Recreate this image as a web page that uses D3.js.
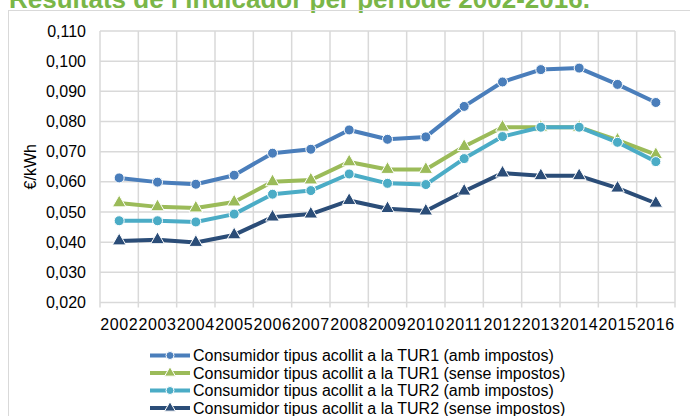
<!DOCTYPE html>
<html>
<head>
<meta charset="utf-8">
<script src="https://cdn.jsdelivr.net/npm/d3@7"></script>
<style>
  body { margin: 0; background: #fff; }
  svg { display: block; font-family: "Liberation Sans", Arial, sans-serif; }
</style>
</head>
<body>
<div id="chart"></div>
<script>
var years = ['2002','2003','2004','2005','2006','2007','2008','2009','2010','2011','2012','2013','2014','2015','2016'];
var yTicks = [0.02, 0.03, 0.04, 0.05, 0.06, 0.07, 0.08, 0.09, 0.10, 0.11];

var tur1Amb   = [0.0613, 0.0599, 0.0592, 0.0622, 0.0695, 0.0708, 0.0772, 0.0741, 0.0749, 0.0850, 0.0931, 0.0972, 0.0977, 0.0923, 0.0863];
var tur1Sense = [0.0530, 0.0517, 0.0513, 0.0533, 0.0600, 0.0606, 0.0666, 0.0641, 0.0641, 0.0717, 0.0781, 0.0781, 0.0781, 0.0738, 0.0690];
var tur2Amb   = [0.0471, 0.0471, 0.0467, 0.0493, 0.0559, 0.0571, 0.0626, 0.0595, 0.0591, 0.0677, 0.0750, 0.0781, 0.0781, 0.0731, 0.0667];
var tur2Sense = [0.0404, 0.0408, 0.0399, 0.0424, 0.0483, 0.0493, 0.0538, 0.0511, 0.0503, 0.0569, 0.0629, 0.0620, 0.0620, 0.0579, 0.0529];

var series = [
  { name: 'Consumidor tipus acollit a la TUR1 (amb impostos)',   values: tur1Amb,   color: '#4a7ebb', marker: 'circle' },
  { name: 'Consumidor tipus acollit a la TUR1 (sense impostos)', values: tur1Sense, color: '#9bbb59', marker: 'triangle' },
  { name: 'Consumidor tipus acollit a la TUR2 (amb impostos)',   values: tur2Amb,   color: '#4bacc6', marker: 'circle' },
  { name: 'Consumidor tipus acollit a la TUR2 (sense impostos)', values: tur2Sense, color: '#2b4d78', marker: 'triangle' }
];

var width = 690, height = 416;
var plotLeft = 100, plotRight = 675, plotTop = 31, plotBottom = 302.5;

var svg = d3.select('#chart').append('svg')
  .attr('width', width)
  .attr('height', height);

// title, cut off at the top edge
svg.append('text')
  .attr('x', 9)
  .attr('y', 8)
  .attr('font-size', 26)
  .attr('font-weight', 'bold')
  .attr('fill', '#7ab648')
  .text('Resultats de l\u2019indicador per període 2002-2016.');

// chart border
svg.append('rect')
  .attr('x', 8.5).attr('y', 10.5)
  .attr('width', 720).attr('height', 440)
  .attr('fill', 'none')
  .attr('stroke', '#d9d9d9');

var x = d3.scaleBand().domain(years).range([plotLeft, plotRight]);
var y = d3.scaleLinear().domain([0.02, 0.11]).range([plotBottom, plotTop]);

var fmt = function(d) { return d3.format('.3f')(d).replace('.', ','); };

// horizontal grid
svg.append('g').selectAll('line')
  .data(yTicks)
  .enter().append('line')
  .attr('x1', plotLeft).attr('x2', plotRight)
  .attr('y1', function(d) { return y(d); })
  .attr('y2', function(d) { return y(d); })
  .attr('stroke', '#d9d9d9')
  .attr('stroke-width', 1.5);

// vertical grid at category boundaries, with tick marks below
var bounds = years.map(function(d) { return x(d); }).concat([plotRight]);
svg.append('g').selectAll('line')
  .data(bounds)
  .enter().append('line')
  .attr('x1', function(d) { return d; })
  .attr('x2', function(d) { return d; })
  .attr('y1', plotTop)
  .attr('y2', plotBottom + 5)
  .attr('stroke', '#d9d9d9')
  .attr('stroke-width', 1.5);

// y labels
svg.append('g').selectAll('text')
  .data(yTicks)
  .enter().append('text')
  .attr('x', 86)
  .attr('y', function(d) { return y(d) + 5.5; })
  .attr('text-anchor', 'end')
  .attr('font-size', 16)
  .attr('fill', '#000')
  .text(fmt);

// x labels
svg.append('g').selectAll('text')
  .data(years)
  .enter().append('text')
  .attr('x', function(d) { return x(d) + x.bandwidth() / 2; })
  .attr('y', 330)
  .attr('text-anchor', 'middle')
  .attr('font-size', 16)
  .attr('letter-spacing', 0.6)
  .attr('fill', '#000')
  .text(function(d) { return d; });

// y axis title
svg.append('text')
  .attr('transform', 'translate(36,' + ((plotTop + plotBottom) / 2) + ') rotate(-90)')
  .attr('text-anchor', 'middle')
  .attr('font-size', 16)
  .text('€/kWh');

var line = d3.line()
  .x(function(d, i) { return x(years[i]) + x.bandwidth() / 2; })
  .y(function(d) { return y(d); });

var tri = d3.symbol().type(d3.symbolTriangle);

function drawMarker(g, s, cx, cy, size) {
  if (s.marker === 'circle') {
    g.append('circle')
      .attr('cx', cx).attr('cy', cy).attr('r', size)
      .attr('fill', s.color)
      .attr('stroke', '#fff')
      .attr('stroke-width', 1);
  } else {
    g.append('path')
      .attr('d', tri.size(size * size * 3.2)())
      .attr('transform', 'translate(' + cx + ',' + cy + ')')
      .attr('fill', s.color)
      .attr('stroke', '#fff')
      .attr('stroke-width', 1);
  }
}

series.forEach(function(s) {
  var g = svg.append('g');
  g.append('path')
    .datum(s.values)
    .attr('d', line)
    .attr('fill', 'none')
    .attr('stroke', s.color)
    .attr('stroke-width', 4)
    .attr('stroke-linejoin', 'round');
  s.values.forEach(function(v, i) {
    drawMarker(g, s, x(years[i]) + x.bandwidth() / 2, y(v), 5);
  });
});

// legend
var legend = svg.append('g');
series.forEach(function(s, i) {
  var cy = 355.5 + i * 17.5;
  legend.append('line')
    .attr('x1', 150).attr('x2', 190)
    .attr('y1', cy).attr('y2', cy)
    .attr('stroke', s.color)
    .attr('stroke-width', 4);
  drawMarker(legend, s, 170, cy, 4);
  legend.append('text')
    .attr('x', 193)
    .attr('y', cy + 5.5)
    .attr('font-size', 16)
    .attr('fill', '#000')
    .text(s.name);
});
</script>
</body>
</html>
